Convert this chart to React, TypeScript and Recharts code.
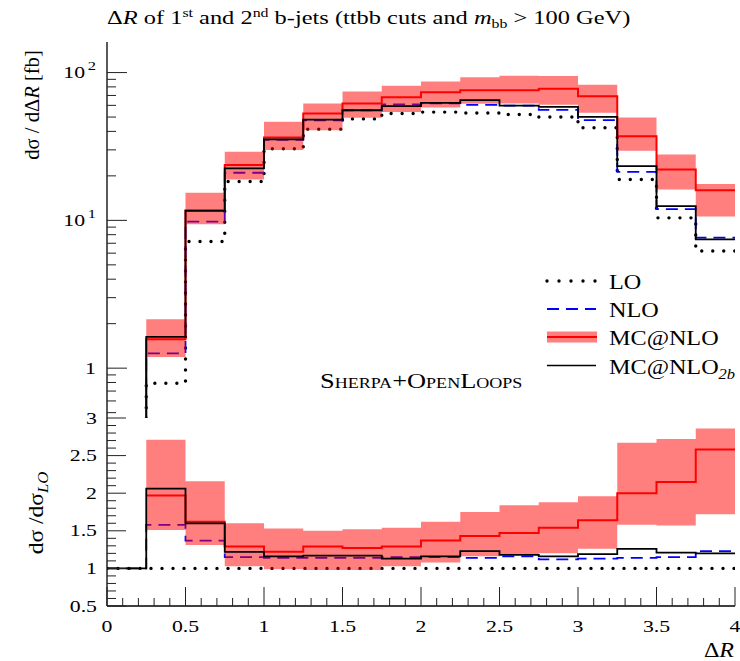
import { Area, ComposedChart, Line, XAxis, YAxis } from 'recharts'

// bin edges in ΔR (16 bins of 0.25)
const binEdges = [0, 0.25, 0.5, 0.75, 1, 1.25, 1.5, 1.75, 2, 2.25, 2.5, 2.75, 3, 3.25, 3.5, 3.75, 4]

// dσ/dΔR [fb]; first bin lies below the plotted range
const lo = [0.3, 0.79, 7.2, 18.3, 30.5, 41.4, 48.6, 52.8, 54.0, 53.3, 52.0, 50.1, 42.3, 18.9, 10.4, 6.2]
const nlo = [0.3, 1.26, 9.8, 21.0, 35.0, 47.5, 55.6, 60.8, 62.0, 60.5, 59.8, 56.0, 47.6, 21.3, 11.9, 7.64]
const mcnlo = [0.3, 1.57, 11.7, 23.7, 36.4, 52.8, 61.7, 68.1, 73.6, 76.0, 76.0, 77.6, 69.2, 37.1, 22.1, 16.0]
const mcnloLow = [null, 1.19, 9.4, 18.9, 29.9, 40.7, 49.4, 54.0, 58.0, 61.5, 61.8, 60.5, 53.4, 29.6, 16.2, 10.6]
const mcnloHigh = [null, 2.14, 15.4, 29.1, 46.4, 61.7, 74.4, 81.3, 86.9, 93.0, 95.0, 94.9, 82.6, 49.7, 27.9, 17.6]
const mcnlo2b = [0.3, 1.63, 11.6, 22.5, 35.3, 48.1, 55.6, 59.2, 62.4, 65.1, 59.8, 58.6, 50.1, 23.3, 12.5, 7.44]

// ratios to LO
const loR = [1, 1, 1, 1, 1, 1, 1, 1, 1, 1, 1, 1, 1, 1, 1, 1]
const nloR = [1, 1.58, 1.37, 1.15, 1.14, 1.14, 1.14, 1.15, 1.15, 1.14, 1.16, 1.12, 1.13, 1.14, 1.15, 1.23]
const mcnloR = [null, 1.97, 1.62, 1.29, 1.22, 1.29, 1.27, 1.29, 1.37, 1.43, 1.47, 1.54, 1.64, 2.0, 2.15, 2.58]
const mcnloLowR = [null, 1.51, 1.31, 1.03, 0.99, 0.98, 0.98, 1.03, 1.08, 1.16, 1.19, 1.2, 1.26, 1.58, 1.57, 1.72]
const mcnloHighR = [null, 2.71, 2.16, 1.6, 1.53, 1.5, 1.52, 1.54, 1.62, 1.75, 1.84, 1.88, 1.96, 2.67, 2.72, 2.86]
const mcnlo2bR = [1, 2.06, 1.6, 1.22, 1.16, 1.17, 1.17, 1.13, 1.16, 1.23, 1.18, 1.16, 1.19, 1.26, 1.21, 1.2]

const xTicks = Array.from({ length: 41 }, (_, i) => i / 10)
const xLabels: Record<string, string> = { '0': '0', '0.5': '0.5', '1': '1', '1.5': '1.5', '2': '2', '2.5': '2.5', '3': '3', '3.5': '3.5', '4': '4' }
const logTicks = [0.5, 0.6, 0.7, 0.8, 0.9, 1, 2, 3, 4, 5, 6, 7, 8, 9, 10, 20, 30, 40, 50, 60, 70, 80, 90, 100]
const logLabels: Record<string, [string, string]> = { '1': ['1', ''], '10': ['10', '1'], '100': ['10', '2'] }
const ratioTicks = Array.from({ length: 26 }, (_, i) => 0.5 + i / 10)
const ratioLabels = ['0.5', '1', '1.5', '2', '2.5', '3']

const FONT = '"Liberation Serif", "DejaVu Serif", serif'
const BAND = 'rgba(255,0,0,0.5)'
const SX = 1.32 // the reference's lettering is wider than Liberation Serif

function stepRows(series: Record<string, (number | null)[]>, low: (number | null)[], high: (number | null)[]) {
  return binEdges.map((x, i) => {
    const k = Math.min(i, low.length - 1)
    const row: any = { x }
    for (const key of Object.keys(series)) row[key] = series[key][k]
    row.band = low[k] == null ? null : [low[k], high[k]]
    return row
  })
}

const mainRows = stepRows({ lo, nlo, mcnlo, mcnlo2b }, mcnloLow, mcnloHigh)
const ratioRows = stepRows({ lo: loR, nlo: nloR, mcnlo: mcnloR, mcnlo2b: mcnlo2bR }, mcnloLowR, mcnloHighR)

const near = (v: number, t: number) => Math.abs(v - t) < 1e-6
const isHalf = (v: number) => near(v * 2, Math.round(v * 2))
const key = (v: number) => String(Math.round(v * 10) / 10)

const xTick = (side: 'top' | 'bottom', labels: boolean) => (p: any) => {
  const v = p.payload.value
  const major = isHalf(v)
  const len = major ? 19 : 8
  const dir = side === 'bottom' ? -1 : 1
  return (
    <g>
      <line x1={p.x} x2={p.x} y1={p.y} y2={p.y + dir * len} stroke='#222' strokeWidth={1} />
      {labels && major && (
        <text transform={`translate(${p.x},${p.y + 26}) scale(${SX},1)`} textAnchor='middle' fontSize={16.5} fontFamily={FONT} fill='#000'>
          {xLabels[key(v)]}
        </text>
      )}
    </g>
  )
}

const logTick = (side: 'left' | 'right') => (p: any) => {
  const v = p.payload.value
  const lab = logLabels[String(v)]
  const len = lab ? 20 : 9
  const dir = side === 'left' ? 1 : -1
  return (
    <g>
      <line x1={p.x} x2={p.x + dir * len} y1={p.y} y2={p.y} stroke='#222' strokeWidth={1} />
      {side === 'left' && lab && (
        <text transform={`translate(${p.x - 11},${p.y + 5.5}) scale(${SX},1)`} textAnchor='end' fontSize={16.5} fontFamily={FONT} fill='#000'>
          {lab[0]}
          {lab[1] && (
            <tspan dx={2} dy={-8} fontSize={12.5}>
              {lab[1]}
            </tspan>
          )}
        </text>
      )}
    </g>
  )
}

const ratioTick = (side: 'left' | 'right') => (p: any) => {
  const v = p.payload.value
  const major = isHalf(v)
  const len = major ? 19 : 9
  const dir = side === 'left' ? 1 : -1
  return (
    <g>
      <line x1={p.x} x2={p.x + dir * len} y1={p.y} y2={p.y} stroke='#222' strokeWidth={1} />
      {side === 'left' && major && (
        <text transform={`translate(${p.x - 10},${p.y + 5.5}) scale(${SX},1)`} textAnchor='end' fontSize={16.5} fontFamily={FONT} fill='#000'>
          {ratioLabels.find((l) => near(parseFloat(l), v))}
        </text>
      )}
    </g>
  )
}

const frame = { stroke: '#000', strokeWidth: 1.3 }

function Series() {
  return [
    <Line key='lo' dataKey='lo' type='stepAfter' stroke='#000' strokeWidth={3.4} strokeDasharray='0 11' strokeLinecap='round' dot={false} isAnimationActive={false} zIndex={50} />,
    <Line key='nlo' dataKey='nlo' type='stepAfter' stroke='#0000ff' strokeWidth={1.8} strokeDasharray='12 7' dot={false} isAnimationActive={false} zIndex={60} />,
    <Area key='band' dataKey='band' type='stepAfter' stroke='none' fill={BAND} fillOpacity={1} isAnimationActive={false} zIndex={100} />,
    <Line key='mc' dataKey='mcnlo' type='stepAfter' stroke='#ff0000' strokeWidth={2} dot={false} isAnimationActive={false} zIndex={400} />,
    <Line key='mc2b' dataKey='mcnlo2b' type='stepAfter' stroke='#000' strokeWidth={1.8} dot={false} isAnimationActive={false} zIndex={410} />,
  ]
}

function LegendBox() {
  const x0 = 547
  const x1 = 596
  const rows = [281, 309, 337, 365.5]
  const txt = { fontSize: 22, fontFamily: FONT, fill: '#000' }
  const at = (y: number) => `translate(609,${y + 8}) scale(1.1,1)`
  return (
    <g>
      <line x1={x0} x2={x1} y1={rows[0]} y2={rows[0]} stroke='#000' strokeWidth={3.4} strokeDasharray='0 12' strokeLinecap='round' />
      <text transform={at(rows[0])} {...txt}>LO</text>
      <line x1={x0} x2={x1} y1={rows[1]} y2={rows[1]} stroke='#0000ff' strokeWidth={1.8} strokeDasharray='12 7' />
      <text transform={at(rows[1])} {...txt}>NLO</text>
      <rect x={x0} y={rows[2] - 5.5} width={x1 - x0 + 1} height={11} fill={BAND} />
      <line x1={x0} x2={x1 + 1} y1={rows[2]} y2={rows[2]} stroke='#ff0000' strokeWidth={2} />
      <text transform={at(rows[2])} {...txt}>MC@NLO</text>
      <line x1={x0} x2={x1} y1={rows[3]} y2={rows[3]} stroke='#000' strokeWidth={1.5} />
      <text transform={at(rows[3])} {...txt}>
        MC@NLO
        <tspan fontSize={15} fontStyle='italic' dy={5}>2b</tspan>
      </text>
    </g>
  )
}

export default function App() {
  return (
    <div style={{ position: 'absolute', left: 0, top: 0, width: 740, height: 661, background: '#fff', fontFamily: FONT }}>
      <div style={{ position: 'absolute', left: 0, top: 0 }}>
        <ComposedChart width={740} height={430} data={mainRows} margin={{ top: 42, right: 5, bottom: 12, left: 47 }}>
          <XAxis xAxisId='b' dataKey='x' type='number' domain={[0, 4]} ticks={xTicks} interval={0} height={0} tickSize={0} tickMargin={0} tickLine={false} axisLine={frame} tick={xTick('bottom', false)} allowDataOverflow />
          <XAxis xAxisId='t' orientation='top' dataKey='x' type='number' domain={[0, 4]} ticks={xTicks} interval={0} height={0} tickSize={0} tickMargin={0} tickLine={false} axisLine={frame} tick={xTick('top', false)} allowDataOverflow />
          <YAxis yAxisId='l' scale='log' type='number' domain={[0.46, 161]} ticks={logTicks} interval={0} width={60} tickSize={0} tickMargin={0} tickLine={false} axisLine={frame} tick={logTick('left')} allowDataOverflow />
          <YAxis yAxisId='r' orientation='right' scale='log' type='number' domain={[0.46, 161]} ticks={logTicks} interval={0} width={0} tickSize={0} tickMargin={0} tickLine={false} axisLine={frame} tick={logTick('right')} allowDataOverflow />
          {Series().map((el) => ({ ...el, props: { ...el.props, xAxisId: 'b', yAxisId: 'l' } }))}
        </ComposedChart>
      </div>
      <div style={{ position: 'absolute', left: 0, top: 410 }}>
        <ComposedChart width={740} height={251} data={ratioRows} margin={{ top: 8, right: 5, bottom: 25, left: 47 }}>
          <XAxis xAxisId='b' dataKey='x' type='number' domain={[0, 4]} ticks={xTicks} interval={0} height={30} tickSize={0} tickMargin={0} tickLine={false} axisLine={frame} tick={xTick('bottom', true)} allowDataOverflow />
          <XAxis xAxisId='t' orientation='top' dataKey='x' type='number' domain={[0, 4]} ticks={xTicks} interval={0} height={0} tickSize={0} tickMargin={0} tickLine={false} axisLine={frame} tick={xTick('top', false)} allowDataOverflow />
          <YAxis yAxisId='l' type='number' domain={[0.5, 3]} ticks={ratioTicks} interval={0} width={60} tickSize={0} tickMargin={0} tickLine={false} axisLine={frame} tick={ratioTick('left')} allowDataOverflow />
          <YAxis yAxisId='r' orientation='right' type='number' domain={[0.5, 3]} ticks={ratioTicks} interval={0} width={0} tickSize={0} tickMargin={0} tickLine={false} axisLine={frame} tick={ratioTick('right')} allowDataOverflow />
          {Series().map((el) => ({ ...el, props: { ...el.props, xAxisId: 'b', yAxisId: 'l' } }))}
        </ComposedChart>
      </div>
      <svg width={740} height={661} style={{ position: 'absolute', left: 0, top: 0, pointerEvents: 'none' }} fontFamily={FONT}>
        <text transform={`translate(107,24) scale(${SX},1)`} fontSize={18.5} fill='#000'>
          Δ<tspan fontStyle='italic'>R</tspan> of 1<tspan fontSize={12} dy={-7}>st</tspan>
          <tspan dy={7}> and 2</tspan>
          <tspan fontSize={12} dy={-7}>nd</tspan>
          <tspan dy={7}> b-jets (ttbb cuts and </tspan>
          <tspan fontStyle='italic'>m</tspan>
          <tspan fontSize={12} dy={4}>bb</tspan>
          <tspan dy={-4}> &gt; 100 GeV)</tspan>
        </text>
        <text transform='translate(39,105) rotate(-90) scale(1.03,1)' textAnchor='middle' fontSize={20} fill='#000'>
          dσ / dΔ<tspan fontStyle='italic'>R</tspan> [fb]
        </text>
        <text transform='translate(43,513) rotate(-90) scale(1.12,1)' textAnchor='middle' fontSize={21} fill='#000'>
          dσ /dσ<tspan fontSize={15} fontStyle='italic' dy={5}>LO</tspan>
        </text>
        <text transform={`translate(320,388) scale(${SX},1)`} fontSize={20} fill='#000' style={{ fontVariant: 'small-caps' }}>
          Sherpa+OpenLoops
        </text>
        <LegendBox />
        <text transform='translate(734,657) scale(1.2,1)' textAnchor='end' fontSize={20} fill='#000'>
          Δ<tspan fontStyle='italic'>R</tspan>
        </text>
      </svg>
    </div>
  )
}
